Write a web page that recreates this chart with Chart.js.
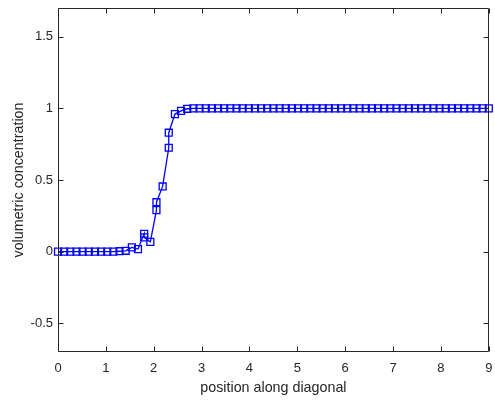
<!DOCTYPE html>
<html>
<head>
<meta charset="utf-8">
<script src="https://cdn.jsdelivr.net/npm/chart.js@4"></script>
<style>
html,body{margin:0;padding:0;background:#fff;}
#wrap{width:495px;height:400px;}
</style>
</head>
<body>
<div id="wrap"><canvas id="c" width="495" height="400"></canvas></div>
<script>
// positions along the diagonal (some positions carry two samples)
const positions = [
  0, 0.129, 0.257, 0.386, 0.514, 0.643, 0.771, 0.9, 1.029, 1.157,
  1.286, 1.414, 1.543, 1.671, 1.8, 1.8, 1.929, 2.057, 2.057, 2.186,
  2.314, 2.314, 2.443, 2.571, 2.7, 2.829, 2.957, 3.086, 3.214, 3.343,
  3.471, 3.6, 3.729, 3.857, 3.986, 4.114, 4.243, 4.371, 4.5, 4.629,
  4.757, 4.886, 5.014, 5.143, 5.271, 5.4, 5.529, 5.657, 5.786, 5.914,
  6.043, 6.171, 6.3, 6.429, 6.557, 6.686, 6.814, 6.943, 7.071, 7.2,
  7.329, 7.457, 7.586, 7.714, 7.843, 7.971, 8.1, 8.229, 8.357, 8.486,
  8.614, 8.743, 8.871, 9.0
];
// volumetric concentration values
const concentration = [
  0, 0, 0, 0, 0, 0, 0, 0, 0, 0,
  0.003, 0.006, 0.03, 0.018, 0.125, 0.1, 0.068, 0.29, 0.345, 0.455,
  0.725, 0.83, 0.96, 0.982, 0.997, 1, 1, 1, 1, 1,
  1, 1, 1, 1, 1, 1, 1, 1, 1, 1,
  1, 1, 1, 1, 1, 1, 1, 1, 1, 1,
  1, 1, 1, 1, 1, 1, 1, 1, 1, 1,
  1, 1, 1, 1, 1, 1, 1, 1, 1, 1,
  1, 1, 1, 1
];
const xTicks = [0, 1, 2, 3, 4, 5, 6, 7, 8, 9];
const yTicks = [-0.5, 0, 0.5, 1, 1.5];

const points = positions.map((p, i) => ({x: p, y: concentration[i]}));
const axisColor = '#262626';
const family = '"Liberation Sans", Arial, sans-serif';
const tickFont = {family: family, size: 13};
const titleFont = {family: family, size: 14.3};

const boxPlugin = {
  id: 'box',
  afterDatasetsDraw(chart) {
    const {ctx, chartArea: a, scales} = chart;
    ctx.save();
    ctx.strokeStyle = axisColor;
    ctx.lineWidth = 1;
    ctx.beginPath();
    const L = Math.round(a.left) + 0.5, R = Math.round(a.right) - 0.5;
    const T = Math.round(a.top) + 0.5, B = Math.round(a.bottom) - 0.5;
    ctx.rect(L, T, R - L, B - T);
    const tl = 5;
    scales.x.ticks.forEach(t => {
      const px = Math.round(scales.x.getPixelForValue(t.value)) + 0.5;
      ctx.moveTo(px, B); ctx.lineTo(px, B - tl);
      ctx.moveTo(px, T); ctx.lineTo(px, T + tl);
    });
    scales.y.ticks.forEach(t => {
      const py = Math.round(scales.y.getPixelForValue(t.value)) + 0.5;
      ctx.moveTo(L, py); ctx.lineTo(L + tl, py);
      ctx.moveTo(R, py); ctx.lineTo(R - tl, py);
    });
    ctx.stroke();
    ctx.restore();
  }
};

function noPad(s) { s.paddingLeft = 0; s.paddingRight = 0; s.paddingTop = 0; s.paddingBottom = 0; }

new Chart(document.getElementById('c'), {
  type: 'scatter',
  data: {
    datasets: [{
      data: points,
      showLine: true,
      borderColor: '#0000ff',
      backgroundColor: 'rgba(0,0,0,0)',
      borderWidth: 1.3,
      pointStyle: 'rect',
      pointRadius: 4.9,
      pointBorderWidth: 1.3,
      pointBorderColor: '#0000ff',
      pointBackgroundColor: 'rgba(0,0,0,0)',
      clip: false,
      tension: 0
    }]
  },
  options: {
    responsive: false,
    animation: false,
    devicePixelRatio: 1,
    layout: {padding: {top: 8, right: 5, left: 0, bottom: 0}},
    plugins: {legend: {display: false}, tooltip: {enabled: false}},
    scales: {
      x: {
        type: 'linear',
        min: 0, max: 9,
        afterBuildTicks(s) { s.ticks = xTicks.map(v => ({value: v})); },
        afterFit(s) { s.height = 48; noPad(s); },
        grid: {display: false, drawTicks: false},
        border: {display: false},
        ticks: {color: axisColor, font: tickFont, padding: 9, maxRotation: 0, callback: v => String(v)},
        title: {display: true, text: 'position along diagonal', color: axisColor, font: titleFont, padding: {top: 0, bottom: 3}}
      },
      y: {
        type: 'linear',
        min: -0.7, max: 1.7,
        afterBuildTicks(s) { s.ticks = yTicks.map(v => ({value: v})); },
        afterFit(s) { s.width = 58; noPad(s); },
        grid: {display: false, drawTicks: false},
        border: {display: false},
        ticks: {color: axisColor, font: tickFont, padding: 5, callback: v => String(v)},
        title: {display: true, text: 'volumetric concentration', color: axisColor, font: titleFont, padding: {top: 10, bottom: 0}}
      }
    }
  },
  plugins: [boxPlugin]
});
</script>
</body>
</html>
